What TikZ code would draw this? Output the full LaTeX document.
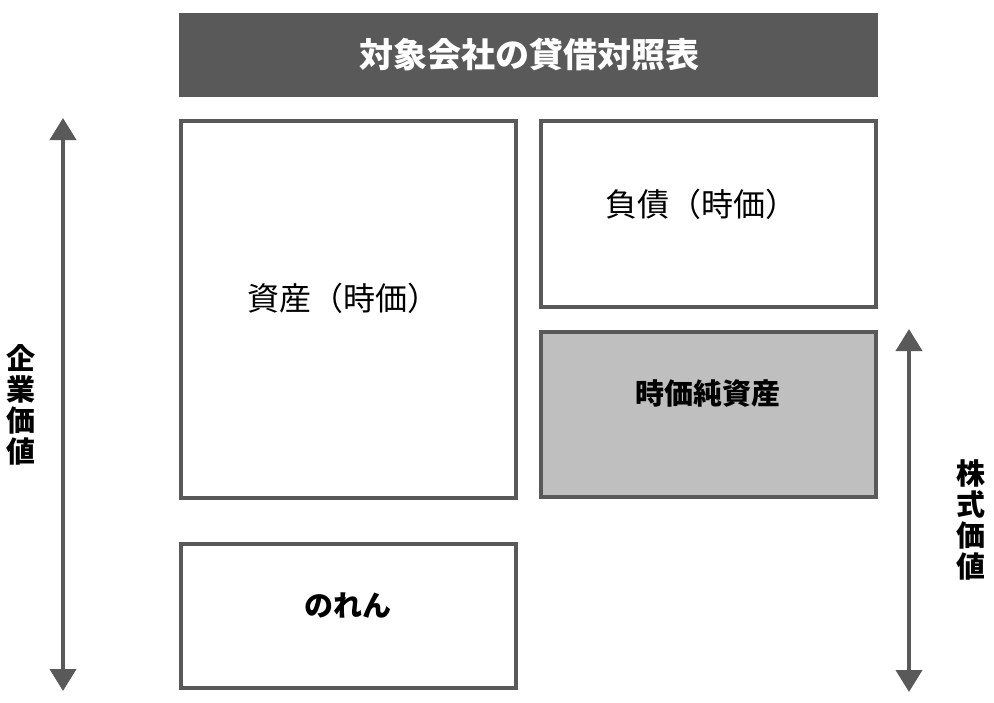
\documentclass[tikz,border=0pt]{standalone}
\usepackage{fontspec}
\setmainfont{Noto Sans CJK JP}
\usepackage{tikz}
\usetikzlibrary{arrows.meta}
\usepackage{xcolor}
\definecolor{darkgray}{HTML}{595959}
\definecolor{lightgray}{HTML}{BFBFBF}

\begin{document}
\begin{tikzpicture}[x=1pt, y=-1pt,
		sheet/.style={draw=darkgray, line width=4pt, inner sep=0pt, minimum width=335pt},
		lbl/.style={font=\fontsize{32}{32}\selectfont, inner sep=0pt},
		blbl/.style={font=\fontsize{29}{29}\selectfont\bfseries, inner sep=0pt},
		vlbl/.style={font=\fontsize{29}{31}\selectfont\bfseries, align=center, inner sep=0pt},
		span/.style={{Triangle[width=26pt,length=22pt]}-{Triangle[width=26pt,length=22pt]}, color=darkgray, line width=4pt}]
	\useasboundingbox (0, 0) rectangle (994, 702);
	% title bar
	\node[fill=darkgray, minimum width=699pt, minimum height=84pt, inner sep=0pt] (title) at (528.5, 55) {};
	\node[font=\fontsize{34}{34}\selectfont\bfseries, text=white, inner sep=0pt] (titletext) at (529, 55) {対象会社の貸借対照表};
	% boxes
	\node[sheet, minimum height=377pt] (assets) at (348.5, 309.5) {};
	\node[sheet, minimum height=186pt] (debt) at (708.5, 214) {};
	\node[sheet, minimum height=165pt, fill=lightgray] (equity) at (708.5, 414.5) {};
	\node[sheet, minimum height=144pt] (goodwill) at (348.5, 616) {};
	\node[lbl] (assetstext) at (343, 298) {資産（時価）};
	\node[lbl] (debttext) at (701, 204) {負債（時価）};
	\node[blbl] (equitytext) at (708, 394) {時価純資産};
	\node[blbl] (goodwilltext) at (348, 606) {のれん};
	% value arrows
	\coordinate (evtop) at (63, 118);
	\coordinate (evbot) at (63, 691);
	\coordinate (svtop) at (909, 329);
	\coordinate (svbot) at (909, 692);
	\draw[span] (evtop) -- (evbot);
	\draw[span] (svtop) -- (svbot);
	\node[vlbl] (evtext) at (21, 405) {企\\業\\価\\値};
	\node[vlbl] (svtext) at (971, 520) {株\\式\\価\\値};
\end{tikzpicture}
\end{document}
